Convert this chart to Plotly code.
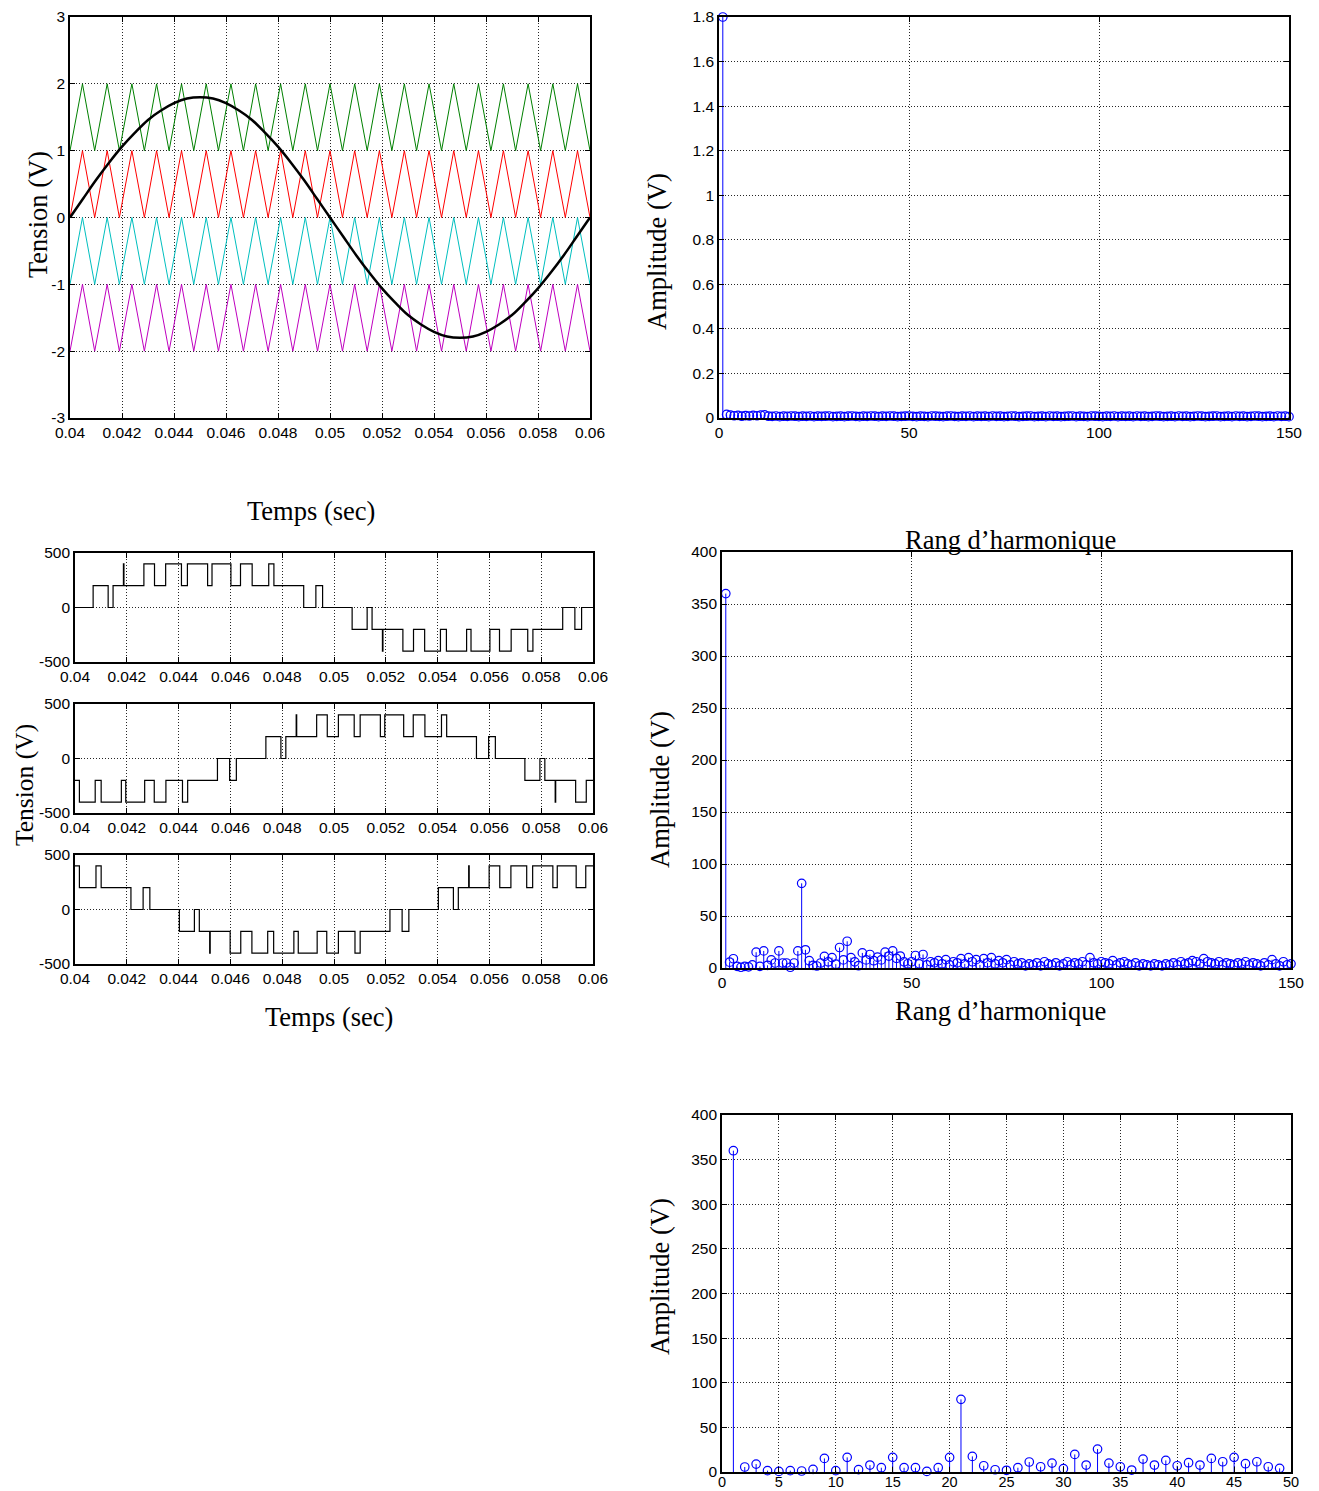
import plotly.graph_objects as go

W, H = 1319, 1491          # browser window
OFF = 8                     # page body margin around the figure
FW, FH = W - 2 * OFF, H - OFF

# ------------------------------------------------------------------ data
# reference sine (V) and time (s)
t_ref = [0.0400, 0.0405, 0.0410, 0.0415, 0.0420, 0.0425, 0.0430, 0.0435, 0.0440, 0.0445,
         0.0450, 0.0455, 0.0460, 0.0465, 0.0470, 0.0475, 0.0480, 0.0485, 0.0490, 0.0495,
         0.0500, 0.0505, 0.0510, 0.0515, 0.0520, 0.0525, 0.0530, 0.0535, 0.0540, 0.0545,
         0.0550, 0.0555, 0.0560, 0.0565, 0.0570, 0.0575, 0.0580, 0.0585, 0.0590, 0.0595,
         0.0600]
v_ref = [0.00, 0.28, 0.56, 0.82, 1.06, 1.27, 1.46, 1.60, 1.71, 1.78,
         1.80, 1.78, 1.71, 1.60, 1.46, 1.27, 1.06, 0.82, 0.56, 0.28,
         0.00, -0.28, -0.56, -0.82, -1.06, -1.27, -1.46, -1.60, -1.71, -1.78,
         -1.80, -1.78, -1.71, -1.60, -1.46, -1.27, -1.06, -0.82, -0.56, -0.28,
         0.00]

# triangular carriers: vertex times and unit shape (0 = valley, 1 = peak)
carrier_t = [0.04000, 0.04048, 0.04095, 0.04143, 0.04190, 0.04238, 0.04286, 0.04333, 0.04381, 0.04429,
             0.04476, 0.04524, 0.04571, 0.04619, 0.04667, 0.04714, 0.04762, 0.04810, 0.04857, 0.04905,
             0.04952, 0.05000, 0.05048, 0.05095, 0.05143, 0.05190, 0.05238, 0.05286, 0.05333, 0.05381,
             0.05429, 0.05476, 0.05524, 0.05571, 0.05619, 0.05667, 0.05714, 0.05762, 0.05810, 0.05857,
             0.05905, 0.05952, 0.06000]
carrier_unit = [0, 1, 0, 1, 0, 1, 0, 1, 0, 1,
                0, 1, 0, 1, 0, 1, 0, 1, 0, 1,
                0, 1, 0, 1, 0, 1, 0, 1, 0, 1,
                0, 1, 0, 1, 0, 1, 0, 1, 0, 1,
                0, 1, 0]
carrier_offsets = [1, 0, -1, -2]
carrier_colors = ["#008000", "#ff0000", "#00bfbf", "#bf00bf"]

# inverter phase voltages (step edges: time, level after edge)
phaseA_t = [0.04000, 0.04070, 0.04128, 0.04147, 0.04187, 0.04189, 0.04266, 0.04307, 0.04350, 0.04411,
            0.04434, 0.04512, 0.04529, 0.04602, 0.04639, 0.04684, 0.04748, 0.04768, 0.04883, 0.04930,
            0.04956, 0.05070, 0.05128, 0.05147, 0.05187, 0.05189, 0.05266, 0.05307, 0.05350, 0.05411,
            0.05434, 0.05512, 0.05529, 0.05602, 0.05639, 0.05684, 0.05748, 0.05768, 0.05883, 0.05930,
            0.05956, 0.06000]
phaseA_v = [0, 200, 0, 200, 400, 200, 400, 200, 400, 200,
            400, 200, 400, 200, 400, 200, 400, 200, 0, 200,
            0, -200, 0, -200, -400, -200, -400, -200, -400, -200,
            -400, -200, -400, -200, -400, -200, -400, -200, 0, -200,
            0, 0]

phaseB_t = [0.04000, 0.04017, 0.04078, 0.04101, 0.04179, 0.04196, 0.04269, 0.04306, 0.04351, 0.04415,
            0.04435, 0.04550, 0.04597, 0.04623, 0.04737, 0.04795, 0.04814, 0.04854, 0.04856, 0.04933,
            0.04974, 0.05017, 0.05078, 0.05101, 0.05179, 0.05196, 0.05269, 0.05306, 0.05351, 0.05415,
            0.05435, 0.05550, 0.05597, 0.05623, 0.05737, 0.05795, 0.05814, 0.05854, 0.05856, 0.05933,
            0.05974, 0.06000]
phaseB_v = [-200, -400, -200, -400, -200, -400, -200, -400, -200, -400,
            -200, 0, -200, 0, 200, 0, 200, 400, 200, 400,
            200, 400, 200, 400, 200, 400, 200, 400, 200, 400,
            200, 0, 200, 0, -200, 0, -200, -400, -200, -400,
            -200, -200]

phaseC_t = [0.04000, 0.04017, 0.04081, 0.04101, 0.04216, 0.04263, 0.04289, 0.04403, 0.04461, 0.04480,
            0.04520, 0.04522, 0.04599, 0.04640, 0.04683, 0.04744, 0.04767, 0.04845, 0.04862, 0.04935,
            0.04972, 0.05017, 0.05081, 0.05101, 0.05216, 0.05263, 0.05289, 0.05403, 0.05461, 0.05480,
            0.05520, 0.05522, 0.05599, 0.05640, 0.05683, 0.05744, 0.05767, 0.05845, 0.05862, 0.05935,
            0.05972, 0.06000]
phaseC_v = [400, 200, 400, 200, 0, 200, 0, -200, 0, -200,
            -400, -200, -400, -200, -400, -200, -400, -200, -400, -200,
            -400, -200, -400, -200, 0, -200, 0, 200, 0, 200,
            400, 200, 400, 200, 400, 200, 400, 200, 400, 200,
            400, 400]

# harmonic spectra
harmonic_orders = list(range(1, 151))
amp_ref = [1.80,
           0.016, 0.013, 0.010, 0.012, 0.008, 0.011, 0.009, 0.012, 0.010, 0.013, 0.014,
           0.008, 0.007, 0.009, 0.006, 0.008, 0.007, 0.009, 0.008, 0.006, 0.008,
           0.007, 0.009, 0.006, 0.008, 0.007, 0.008, 0.009, 0.006, 0.007, 0.008,
           0.006, 0.008, 0.009, 0.007, 0.006, 0.008, 0.007, 0.009, 0.008, 0.006,
           0.008, 0.007, 0.009, 0.008, 0.006, 0.007, 0.008, 0.009, 0.007, 0.006,
           0.008, 0.007, 0.006, 0.009, 0.008, 0.007, 0.006, 0.008, 0.009, 0.007,
           0.006, 0.008, 0.007, 0.009, 0.006, 0.008, 0.007, 0.008, 0.006, 0.009,
           0.007, 0.008, 0.006, 0.007, 0.009, 0.008, 0.006, 0.007, 0.008, 0.009,
           0.006, 0.007, 0.008, 0.006, 0.009, 0.007, 0.008, 0.006, 0.007, 0.008,
           0.009, 0.006, 0.008, 0.007, 0.006, 0.009, 0.008, 0.007, 0.006, 0.008,
           0.007, 0.009, 0.006, 0.008, 0.007, 0.008, 0.006, 0.009, 0.007, 0.008,
           0.006, 0.007, 0.009, 0.008, 0.006, 0.007, 0.008, 0.006, 0.009, 0.007,
           0.008, 0.006, 0.007, 0.009, 0.008, 0.006, 0.007, 0.008, 0.009, 0.006,
           0.007, 0.008, 0.006, 0.009, 0.007, 0.008, 0.006, 0.007, 0.009, 0.008,
           0.006, 0.007, 0.008, 0.006, 0.009, 0.007, 0.008, 0.006]
amp_inv = [360, 5.6, 8.9, 1.5, 0.7, 1.5, 1.1, 3.0, 15.2, 1.5,
           16.4, 2.6, 7.8, 4.8, 16.4, 4.8, 4.8, 0.7, 4.8, 16.4,
           81.4, 17.5, 7.0, 2.5, 1.9, 4.8, 11.2, 5.9, 10.0, 3.7,
           19.7, 7.8, 25.7, 10.0, 5.9, 2.2, 14.5, 7.8, 13.0, 7.0,
           10.4, 7.8, 15.2, 11.5, 16.4, 9.3, 11.5, 5.9, 4.1, 6,
           12, 4, 13, 3, 6, 5, 7, 4, 8, 3,
           6, 5, 9, 4, 10, 6, 8, 3, 9, 5,
           10, 4, 7, 5, 8, 3, 6, 4, 5, 2,
           4, 3, 5, 2, 6, 4, 3, 5, 2, 4,
           6, 3, 5, 4, 6, 3, 10, 5, 4, 6,
           5, 4, 7, 3, 5, 6, 4, 3, 5, 2,
           4, 3, 2, 4, 3, 2, 4, 3, 5, 3,
           6, 4, 5, 7, 6, 4, 9, 6, 5, 4,
           6, 3, 5, 4, 3, 5, 4, 6, 3, 5,
           4, 2, 5, 3, 8, 4, 2, 6, 3, 4]
n_zoom = 49  # harmonics shown in the bottom (zoomed) spectrum

# tick labels
time_ticks = [0.04, 0.042, 0.044, 0.046, 0.048, 0.05, 0.052, 0.054, 0.056, 0.058, 0.06]
time_labels = ["0.04", "0.042", "0.044", "0.046", "0.048", "0.05", "0.052", "0.054", "0.056", "0.058", "0.06"]
tension_ticks = [-3, -2, -1, 0, 1, 2, 3]
tension_labels = ["-3", "-2", "-1", "0", "1", "2", "3"]
ref_amp_ticks = [0, 0.2, 0.4, 0.6, 0.8, 1.0, 1.2, 1.4, 1.6, 1.8]
ref_amp_labels = ["0", "0.2", "0.4", "0.6", "0.8", "1", "1.2", "1.4", "1.6", "1.8"]
phase_ticks = [-500, 0, 500]
phase_labels = ["-500", "0", "500"]
harm_ticks = [0, 50, 100, 150]
harm_labels = ["0", "50", "100", "150"]
inv_amp_ticks = [0, 50, 100, 150, 200, 250, 300, 350, 400]
inv_amp_labels = ["0", "50", "100", "150", "200", "250", "300", "350", "400"]
zoom_ticks = [0, 5, 10, 15, 20, 25, 30, 35, 40, 45, 50]
zoom_labels = ["0", "5", "10", "15", "20", "25", "30", "35", "40", "45", "50"]

# ------------------------------------------------------------------ layout helpers (page pixels -> paper)
def fx(px):
    return (px - OFF) / FW


def fy(py):
    return 1 - (py - OFF) / FH


def px_x(a, b):
    return [fx(a), fx(b)]


def px_y(top, bottom):
    return [fy(bottom), fy(top)]


TICKFONT = dict(family="Liberation Sans, Arial, sans-serif", size=15.5, color="black")
TITLEFONT = dict(family="Liberation Serif, Times New Roman, serif", size=26.5, color="black")


def axis(domain, rng, tickvals, ticktext, grid=True):
    return dict(domain=domain, range=rng, tickvals=tickvals, ticktext=ticktext,
                showline=True, linecolor="black", linewidth=1.6, mirror="ticks",
                ticks="inside", ticklen=5, tickcolor="black", tickwidth=1,
                showgrid=grid, gridcolor="rgba(0,0,0,0.85)", gridwidth=1, griddash="1px,2px",
                zeroline=False, tickfont=TICKFONT, fixedrange=True, automargin=False)


fig = go.Figure()

# ---- panel 1: carriers + reference
for off, col in zip(carrier_offsets, carrier_colors):
    fig.add_trace(go.Scatter(x=carrier_t, y=[u + off for u in carrier_unit], mode="lines",
                             line=dict(color=col, width=1), xaxis="x", yaxis="y",
                             showlegend=False, hoverinfo="skip"))
fig.add_trace(go.Scatter(x=t_ref, y=v_ref, mode="lines", line=dict(color="black", width=2.5, shape="spline"),
                         xaxis="x", yaxis="y", showlegend=False))


def stem(orders, values, xa, ya):
    sx, sy = [], []
    for h, v in zip(orders, values):
        sx += [h, h, None]
        sy += [0, v, None]
    fig.add_trace(go.Scatter(x=sx, y=sy, mode="lines", line=dict(color="blue", width=1),
                             xaxis=xa, yaxis=ya, showlegend=False, hoverinfo="skip"))
    fig.add_trace(go.Scatter(x=orders, y=values, mode="markers",
                             marker=dict(symbol="circle-open", size=8.5, color="blue", line=dict(width=1.2)),
                             xaxis=xa, yaxis=ya, showlegend=False, cliponaxis=False))


# ---- panel 2: spectrum of reference
stem(harmonic_orders, amp_ref, "x2", "y2")

# ---- panels 3-5: phase voltages
for tt, vv, xa, ya in [(phaseA_t, phaseA_v, "x3", "y3"),
                       (phaseB_t, phaseB_v, "x4", "y4"),
                       (phaseC_t, phaseC_v, "x5", "y5")]:
    fig.add_trace(go.Scatter(x=tt, y=vv, mode="lines", line=dict(color="black", width=1.2, shape="hv"),
                             xaxis=xa, yaxis=ya, showlegend=False))

# ---- panel 6: inverter spectrum 0-150
stem(harmonic_orders, amp_inv, "x6", "y6")

# ---- panel 7: inverter spectrum 0-50
stem(harmonic_orders[:n_zoom], amp_inv[:n_zoom], "x7", "y7")

left_top = px_x(70, 590)
right_top = px_x(719, 1289)
top_row = px_y(17, 418)
mid_left = px_x(75, 593)
right_mid = px_x(722, 1291)

fig.update_layout(
    template="none",
    width=FW, height=FH, autosize=False,
    margin=dict(l=0, r=0, t=0, b=0, pad=0),
    paper_bgcolor="white", plot_bgcolor="white",
    showlegend=False,
    xaxis=dict(axis(left_top, [0.04, 0.06], time_ticks, time_labels), anchor="y"),
    yaxis=dict(axis(top_row, [-3, 3], tension_ticks, tension_labels), anchor="x"),
    xaxis2=dict(axis(right_top, [0, 150], harm_ticks, harm_labels), anchor="y2"),
    yaxis2=dict(axis(top_row, [0, 1.8], ref_amp_ticks, ref_amp_labels), anchor="x2"),
    xaxis3=dict(axis(mid_left, [0.04, 0.06], time_ticks, time_labels), anchor="y3"),
    yaxis3=dict(axis(px_y(553, 662), [-500, 500], phase_ticks, phase_labels), anchor="x3"),
    xaxis4=dict(axis(mid_left, [0.04, 0.06], time_ticks, time_labels), anchor="y4"),
    yaxis4=dict(axis(px_y(704, 813), [-500, 500], phase_ticks, phase_labels), anchor="x4"),
    xaxis5=dict(axis(mid_left, [0.04, 0.06], time_ticks, time_labels), anchor="y5"),
    yaxis5=dict(axis(px_y(855, 964), [-500, 500], phase_ticks, phase_labels), anchor="x5"),
    xaxis6=dict(axis(right_mid, [0, 150], harm_ticks, harm_labels), anchor="y6"),
    yaxis6=dict(axis(px_y(552, 968), [0, 400], inv_amp_ticks, inv_amp_labels), anchor="x6"),
    xaxis7=dict(axis(right_mid, [0, 50], zoom_ticks, zoom_labels), anchor="y7",
                ticklabelstandoff=-4,
                tickfont=dict(family="Liberation Sans, Arial, sans-serif", size=14.5, color="black")),
    yaxis7=dict(axis(px_y(1115, 1472), [0, 400], inv_amp_ticks, inv_amp_labels), anchor="x7"),
)

titles = [
    ("Tension (V)", 38, 215, -90, 26.5),
    ("Temps (sec)", 311, 511, 0, 26.5),
    ("Amplitude (V)", 657, 252, -90, 26.5),
    ("Rang d\u2019harmonique", 1010, 540, 0, 26.5),
    ("Tension (V)", 24, 785, -90, 25.5),
    ("Temps (sec)", 329, 1017, 0, 26.5),
    ("Amplitude (V)", 660, 790, -90, 26.5),
    ("Rang d\u2019harmonique", 1000, 1011, 0, 26.5),
    ("Amplitude (V)", 660, 1277, -90, 26.5),
]
for text, x, y, ang, sz in titles:
    fig.add_annotation(text=text, x=fx(x), y=fy(y), xref="paper", yref="paper",
                       showarrow=False, textangle=ang, borderpad=0,
                       font=dict(TITLEFONT, size=sz),
                       xanchor="center", yanchor="middle")

fig.write_html("out.html")
